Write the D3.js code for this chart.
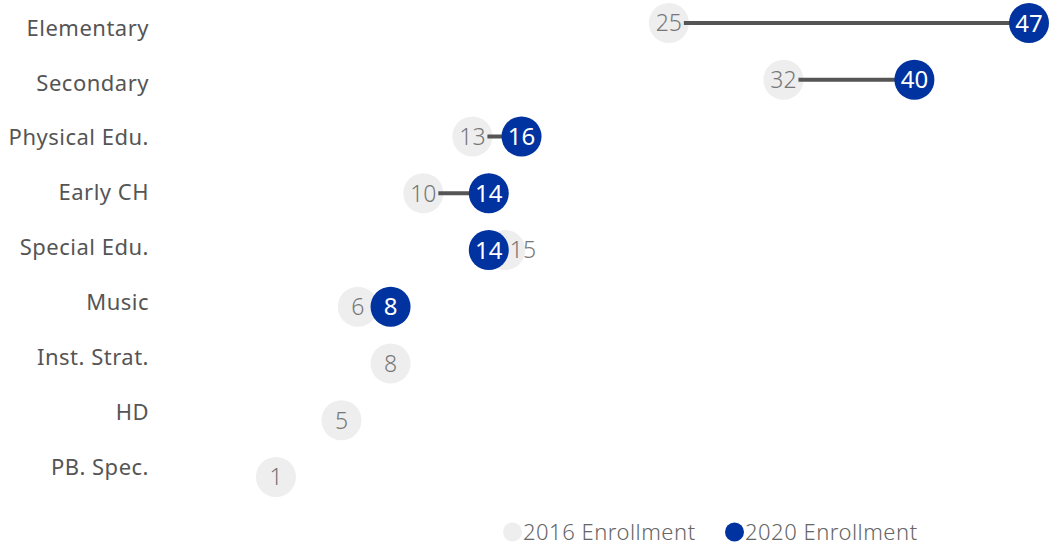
<!DOCTYPE html>
<html>
<head>
<meta charset="utf-8">
<script src="https://cdn.jsdelivr.net/npm/d3@7"></script>
<style>
  html, body { margin: 0; padding: 0; background: #fff; }
  svg { display: block; }
  text { font-family: "Noto Sans", "Open Sans", sans-serif; }
</style>
</head>
<body>
<svg id="chart" width="1049" height="548"></svg>
<script>
const categories = ["Elementary", "Secondary", "Physical Edu.", "Early CH", "Special Edu.", "Music", "Inst. Strat.", "HD", "PB. Spec."];
const enrollment2016 = [25, 32, 13, 10, 15, 6, 8, 5, 1];
const enrollment2020 = [47, 40, 16, 14, 14, 8, null, null, null];
const seriesNames = ["2016 Enrollment", "2020 Enrollment"];

const W = 1049, H = 548;
const R = 20;
const grayFill = "#eeeeee", blueFill = "#0033a0";

const svg = d3.select("#chart");

const x = d3.scaleLinear().domain([0, 47]).range([259.6, 1029]);
const yDot = d3.scalePoint().domain(categories).range([23, 477]);
const yLab = d3.scalePoint().domain(categories).range([28, 467]);

const rows = categories.map((c, i) => ({ c, a: enrollment2016[i], b: enrollment2020[i] }));

// category labels
svg.append("g").selectAll("text").data(rows).join("text")
  .attr("x", 149).attr("y", d => yLab(d.c)).attr("dy", "0.35em")
  .attr("text-anchor", "end")
  .attr("font-size", 22).attr("letter-spacing", 0.5).attr("fill", "#555")
  .text(d => d.c);

// 2016 circles
svg.append("g").selectAll("circle").data(rows).join("circle")
  .attr("cx", d => x(d.a)).attr("cy", d => yDot(d.c)).attr("r", R)
  .attr("fill", grayFill);

const covered = d => d.b != null && d.b < d.a && x(d.a) - x(d.b) < 2 * R;

// 2016 labels
svg.append("g").selectAll("text").data(rows).join("text")
  .attr("x", d => covered(d) ? x(d.b) + R + 1 : x(d.a))
  .attr("text-anchor", d => covered(d) ? "start" : "middle")
  .attr("y", d => yDot(d.c)).attr("dy", "0.36em")
  .attr("font-size", 23).attr("font-weight", 300).attr("fill", "#777")
  .text(d => d.a);

const both = rows.filter(d => d.b != null);

// connecting lines
svg.append("g").selectAll("line").data(both.filter(d => d.b > d.a)).join("line")
  .attr("x1", d => x(d.a) + 15).attr("x2", d => x(d.b))
  .attr("y1", d => yDot(d.c)).attr("y2", d => yDot(d.c))
  .attr("stroke", "#555").attr("stroke-width", 4);

// 2020 circles
svg.append("g").selectAll("circle").data(both).join("circle")
  .attr("cx", d => x(d.b)).attr("cy", d => yDot(d.c)).attr("r", R)
  .attr("fill", blueFill);

svg.append("g").selectAll("text").data(both).join("text")
  .attr("x", d => x(d.b)).attr("y", d => yDot(d.c)).attr("dy", "0.36em")
  .attr("text-anchor", "middle")
  .attr("font-size", 24).attr("font-weight", 400).attr("fill", "#fff")
  .text(d => d.b);

// legend
const legend = svg.append("g");
const legItems = [
  { name: seriesNames[0], fill: grayFill, cx: 512.5 },
  { name: seriesNames[1], fill: blueFill, cx: 734.5 }
];
legItems.forEach(it => {
  legend.append("circle").attr("cx", it.cx).attr("cy", 532).attr("r", 9.5).attr("fill", it.fill);
  legend.append("text").attr("x", it.cx + 10.5).attr("y", 532).attr("dy", "0.36em")
    .attr("font-size", 22).attr("font-weight", 300).attr("letter-spacing", 0.5).attr("fill", "#666")
    .text(it.name);
});
</script>
</body>
</html>
